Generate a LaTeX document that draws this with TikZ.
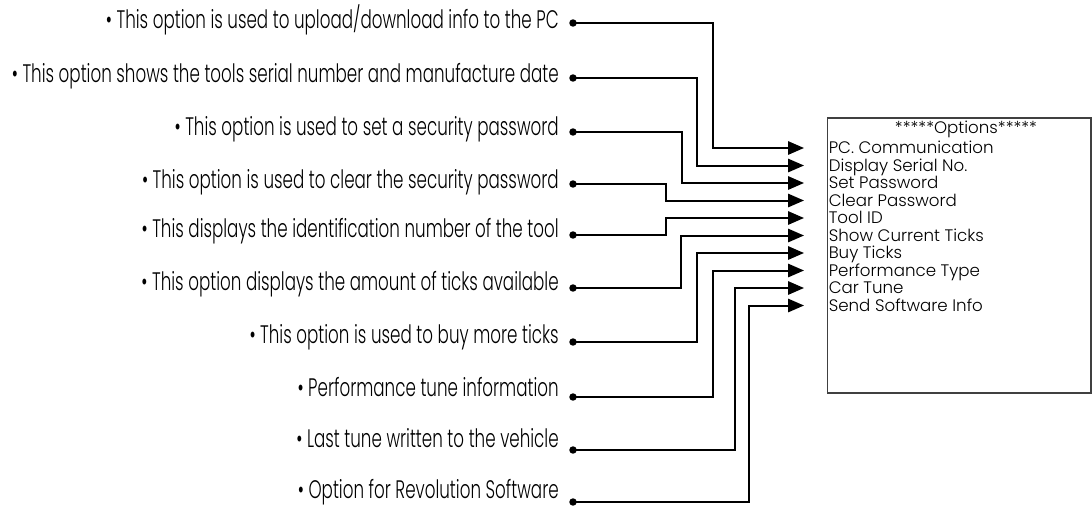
\documentclass[tikz,border=0pt]{standalone}
\usepackage{fontspec}
\usetikzlibrary{arrows.meta}
\newfontfamily\labfont{Poppins Light}[FakeStretch=0.66]
\newfontfamily\optfont{Poppins Light}
\begin{document}
\begin{tikzpicture}[x=0.75pt,y=-0.75pt,
  lab/.style={font=\labfont\fontsize{19}{22}\selectfont, inner sep=0pt, anchor=base east},
  opt/.style={font=\optfont\fontsize{12.5}{13}\selectfont, inner sep=0pt, anchor=base west},
  dotnode/.style={circle, fill=black, inner sep=0pt, minimum size=5.6pt},
  conn/.style={line width=1.5pt, -{Triangle[length=12pt,width=10pt]}},
  optbox/.style={draw=black!75, line width=0.8pt}]
\useasboundingbox (0,0) rectangle (1092,507);
\draw[optbox] (827.5,118) rectangle (1091,393);
\node[opt, anchor=base] (hdr) at (966,133) {*****Options*****};
\foreach \i/\dy/\by/\bx/\ay/\lt/\ot in {
 1/23/28.3/713/148/{This option is used to upload/download info to the PC}/{PC. Communication},
 2/78/82/697/165.5/{This option shows the tools serial number and manufacture date}/{Display Serial No.},
 3/132/135/682/183/{This option is used to set a security password}/{Set Password},
 4/184/188/666/200.5/{This option is used to clear the security password}/{Clear Password},
 5/235/237.5/666/218/{This displays the identification number of the tool}/{Tool ID},
 6/288/290/681/235.5/{This option displays the amount of ticks available}/{Show Current Ticks},
 7/342/343/697/253/{This option is used to buy more ticks}/{Buy Ticks},
 8/397/396/713/270.5/{Performance tune information}/{Performance Type},
 9/450/447.5/735/288/{Last tune written to the vehicle}/{Car Tune},
 10/502/498/749/305.5/{Option for Revolution Software}/{Send Software Info}} {
  \node[dotnode] (d\i) at (573,\dy) {};
  \node[lab] (l\i) at (559,\by) {• \lt};
  \node[opt] (o\i) at (828.5,\ay+5.5) {\ot};
  \coordinate (t\i) at (804,\ay);
  \draw[conn] (d\i.center) -| (\bx,\ay) -- (t\i);
}
\end{tikzpicture}
\end{document}
